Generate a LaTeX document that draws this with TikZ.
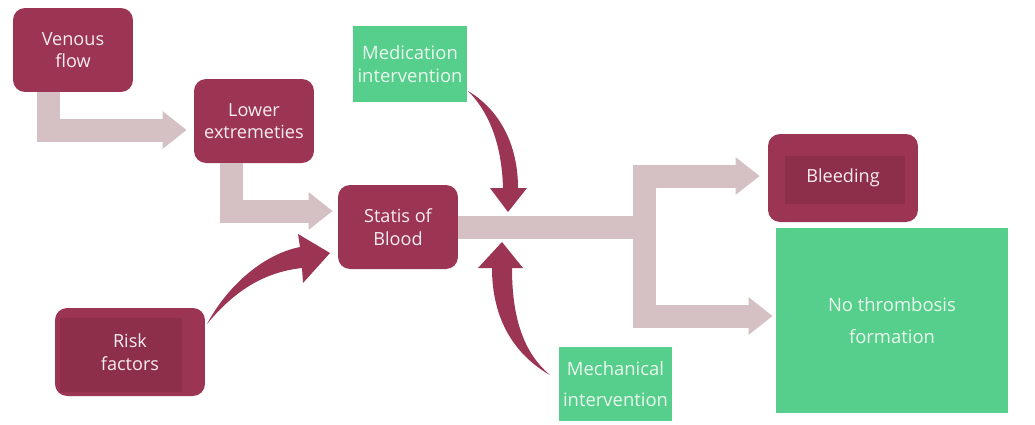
\documentclass[tikz,border=0pt]{standalone}
\usepackage{fontspec}
\setmainfont{Open Sans}
\usetikzlibrary{arrows.meta,positioning}
\definecolor{boxred}{HTML}{9C3454}
\definecolor{innerred}{HTML}{8D2E4A}
\definecolor{boxtext}{HTML}{F7EEF1}
\definecolor{boxgreen}{HTML}{55CF8B}
\definecolor{greentext}{HTML}{EAF8EF}
\definecolor{flowpink}{HTML}{D5C0C4}
\tikzset{
  redbox/.style={fill=boxred, text=boxtext, rounded corners=0.24cm,
    minimum width=2.4cm, minimum height=1.68cm, align=center,
    font=\fontsize{10.3}{12.8}\selectfont},
  greenbox/.style={fill=boxgreen, text=greentext, align=center, inner sep=0pt},
  flow/.style={draw=flowpink, line width=0.46cm,
    -{Triangle[length=0.48cm,width=0.72cm]}},
  curvy/.style={fill=boxred},
}
\begin{document}
\begin{tikzpicture}[x=0.02cm,y=-0.02cm]
\useasboundingbox (0,0) rectangle (1035,424);
% boxes
\node[redbox] (venous) at (73,50) {Venous\\flow};
\node[redbox] (lower) at (254,121) {Lower\\extremeties};
\node[redbox] (statis) at (398,227) {Statis of\\Blood};
\node[redbox, minimum width=3cm, minimum height=1.76cm,
  path picture={\fill[innerred, sharp corners] ([xshift=0.1cm,yshift=-0.2cm]path picture bounding box.north west)
    rectangle ([xshift=-0.46cm,yshift=0.08cm]path picture bounding box.south east);}]
  (risk) at (130,352) {Risk\\factors};
\node[redbox, minimum width=3cm, minimum height=1.76cm,
  path picture={\fill[innerred, sharp corners] ([xshift=0.34cm,yshift=-0.44cm]path picture bounding box.north west)
    rectangle ([xshift=-0.26cm,yshift=0.36cm]path picture bounding box.south east);}]
  (bleed) at (843,178) {Bleeding};
\node[greenbox, minimum width=2.28cm, minimum height=1.52cm,
  font=\fontsize{10.5}{13}\selectfont] (med) at (410,64) {Medication\\intervention};
\node[greenbox, minimum width=2.26cm, minimum height=1.48cm,
  font=\fontsize{10.5}{18}\selectfont] (mech) at (615.5,384) {Mechanical\\intervention};
\node[greenbox, minimum width=4.64cm, minimum height=3.7cm,
  font=\fontsize{10.5}{18}\selectfont] (nothr) at (892,320.5) {No thrombosis\\formation};
% flow arrows
\coordinate (V1) at (48.5,130);
\coordinate (L1) at (231.5,211);
\coordinate (S1) at (644.5,227);
\draw[flow] (venous.south -| V1) |- ([xshift=-0.14cm]lower.west |- V1);
\draw[flow] (lower.south -| L1) |- ([xshift=-0.1cm]statis.west |- L1);
\draw[draw=flowpink, line width=0.46cm] (statis.east) -- (S1);
\draw[flow] (S1) |- ([xshift=-0.16cm,yshift=0.04cm]bleed.west);
\draw[flow] (S1) |- ([xshift=-0.06cm,yshift=0.09cm]nothr.west);
% curved arrows
\fill[curvy] (207,324) .. controls (225,290) and (260,255) .. (300,247)
  -- (298,234) -- (330,253) -- (303,283) -- (302,268)
  .. controls (265,272) and (235,290) .. (207,324) -- cycle;
\fill[curvy] (468,91) .. controls (500,110) and (518,145) .. (518,188)
  -- (527,188) -- (508,212) -- (490,188) -- (503,188)
  .. controls (502,150) and (492,115) .. (468,91) -- cycle;
\fill[curvy] (550,375) .. controls (520,350) and (512,310) .. (512,268)
  -- (523,268) -- (502,242) -- (478,268) -- (492,268)
  .. controls (492,320) and (515,355) .. (550,375) -- cycle;
\end{tikzpicture}
\end{document}
